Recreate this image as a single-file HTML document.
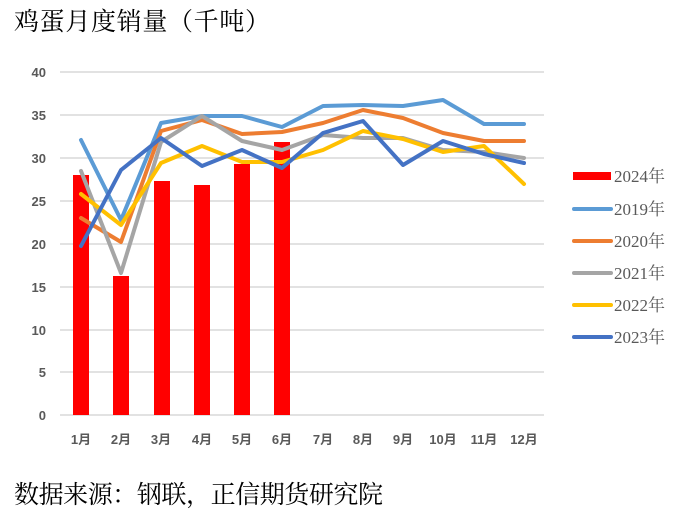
<!DOCTYPE html>
<html><head><meta charset="utf-8"><style>
html,body{margin:0;padding:0;background:#fff;}
svg{display:block;}
</style></head><body>
<svg width="693" height="517" xmlns="http://www.w3.org/2000/svg">
<text x="14" y="30" font-family="Liberation Serif, Noto Serif CJK SC, serif" font-size="25" fill="#000" textLength="256">鸡蛋月度销量（千吨）</text>
<g stroke="#d9d9d9" stroke-width="1.5">
<line x1="60" x2="544" y1="72" y2="72"/><line x1="60" x2="544" y1="115" y2="115"/>
<line x1="60" x2="544" y1="158" y2="158"/><line x1="60" x2="544" y1="201" y2="201"/>
<line x1="60" x2="544" y1="244" y2="244"/><line x1="60" x2="544" y1="287" y2="287"/>
<line x1="60" x2="544" y1="330" y2="330"/><line x1="60" x2="544" y1="372" y2="372"/>
<line x1="60" x2="544" y1="415" y2="415"/>
</g>
<g font-family="Liberation Sans, sans-serif" font-size="13" fill="#595959" text-anchor="end" font-weight="bold">
<text x="46" y="77">40</text><text x="46" y="120">35</text><text x="46" y="163">30</text>
<text x="46" y="206">25</text><text x="46" y="249">20</text><text x="46" y="292">15</text>
<text x="46" y="335">10</text><text x="46" y="377">5</text><text x="46" y="420">0</text>
</g>
<g font-family="Liberation Sans, Noto Sans CJK SC, sans-serif" font-size="13" fill="#595959" text-anchor="middle" font-weight="bold">
<text x="81" y="444">1月</text><text x="121" y="444">2月</text><text x="161" y="444">3月</text>
<text x="202" y="444">4月</text><text x="242" y="444">5月</text><text x="282" y="444">6月</text>
<text x="323" y="444">7月</text><text x="363" y="444">8月</text><text x="403" y="444">9月</text>
<text x="443" y="444">10月</text><text x="484" y="444">11月</text><text x="524" y="444">12月</text>
</g>
<g fill="#ff0000">
<rect x="73" y="175" width="16" height="240"/><rect x="113" y="276" width="16" height="139"/>
<rect x="154" y="181" width="16" height="234"/><rect x="194" y="185" width="16" height="230"/>
<rect x="234" y="164" width="16" height="251"/><rect x="274" y="142" width="16" height="273"/>
</g>
<g fill="none" stroke-width="4" stroke-linejoin="round" stroke-linecap="round">
<polyline stroke="#5b9bd5" points="81,140 121,220 161,123 202,116 242,116 282,127 323,106 363,105 403,106 443,100 484,124 524,124"/>
<polyline stroke="#ed7d31" points="81,218 121,242 161,131 202,120 242,134 282,132 323,123 363,110 403,118 443,133 484,141 524,141"/>
<polyline stroke="#a5a5a5" points="81,171 121,273 161,142 202,116 242,141 282,150 323,135 363,138 403,138 443,150 484,152 524,158"/>
<polyline stroke="#ffc000" points="81,194 121,225 161,163 202,146 242,162 282,162 323,150 363,131 403,139 443,152 484,146 524,184"/>
<polyline stroke="#4472c4" points="81,246 121,170 161,138 202,166 242,150 282,168 323,133 363,121 403,165 443,141 484,154 524,163"/>
</g>
<rect x="573" y="172" width="38" height="8" fill="#ff0000"/>
<g stroke-width="4" stroke-linecap="round">
<line x1="574" x2="611" y1="209" y2="209" stroke="#5b9bd5"/>
<line x1="574" x2="611" y1="241" y2="241" stroke="#ed7d31"/>
<line x1="574" x2="611" y1="273" y2="273" stroke="#a5a5a5"/>
<line x1="574" x2="611" y1="305" y2="305" stroke="#ffc000"/>
<line x1="574" x2="611" y1="337" y2="337" stroke="#4472c4"/>
</g>
<g font-family="Liberation Serif, Noto Serif CJK SC, serif" font-size="17" fill="#595959">
<text x="614" y="182">2024年</text><text x="614" y="215">2019年</text><text x="614" y="247">2020年</text>
<text x="614" y="279">2021年</text><text x="614" y="311">2022年</text><text x="614" y="343">2023年</text>
</g>
<text x="14" y="503" font-family="Liberation Serif, Noto Serif CJK SC, serif" font-size="25" fill="#000" textLength="369">数据来源：钢联，正信期货研究院</text>
</svg>
</body></html>
